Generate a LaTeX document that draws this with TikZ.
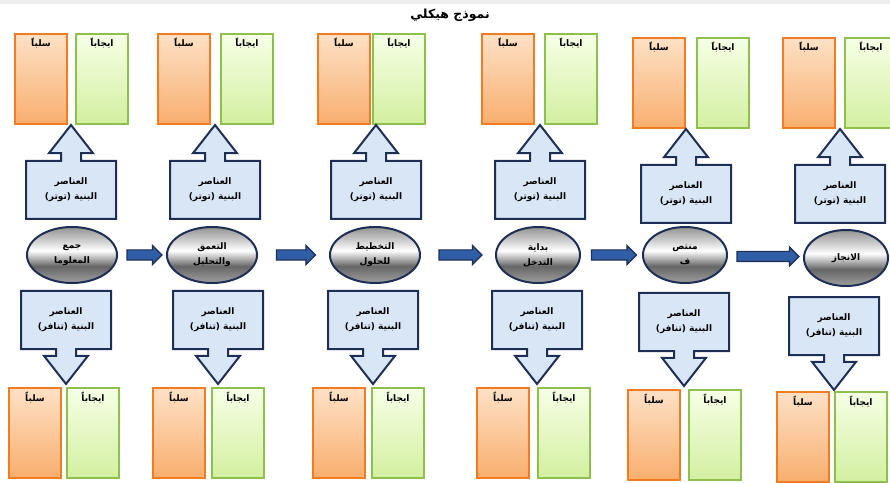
\documentclass[tikz,border=0pt]{standalone}
\usepackage{fontspec}
\usetikzlibrary{shapes.geometric,shapes.arrows}
\TeXXeTstate=1
\newfontfamily\arabicfont[Script=Arabic]{DejaVu Sans}
\newcommand{\rtxt}[1]{\beginR#1\endR}

\definecolor{navy}{HTML}{1F2E55}
\definecolor{flowblue}{HTML}{2F5DA6}
\definecolor{boxblue}{HTML}{D9E6F6}
\definecolor{negline}{HTML}{F37B22}
\definecolor{negtop}{HTML}{FDE1C6}
\definecolor{negbot}{HTML}{F9AE6E}
\definecolor{posline}{HTML}{8DC04C}
\definecolor{postop}{HTML}{F6FFE6}
\definecolor{posbot}{HTML}{D3EFA0}

\pgfdeclareverticalshading{metal}{100bp}{color(0bp)=(gray!75); color(25bp)=(gray!75); color(40bp)=(gray!80!black); color(47bp)=(gray!60); color(54bp)=(white); color(62bp)=(gray!35); color(75bp)=(gray!85); color(100bp)=(gray!85)}

\begin{document}
\begin{tikzpicture}[x=1pt,y=1pt,font=\arabicfont\bfseries\fontsize{9}{15}\selectfont]

      \useasboundingbox (0,0) rectangle (890,482);
      \fill[gray!15] (0,478) rectangle (890,482);

      \node (title) at (450,467) {\fontsize{12.5}{14}\selectfont\rtxt{نموذج هيكلي}};

      % negative boxes
      \begin{scope}[every node/.style={rectangle,draw=negline,line width=1.2pt,top color=negtop,bottom color=negbot,minimum width=52pt,inner xsep=0pt,inner ysep=4pt,text height=9pt,text depth=73pt}]
        \node (tn1) at (41,403) {\rtxt{سلباً}};
        \node (tn2) at (184,403) {\rtxt{سلباً}};
        \node (tn3) at (344,403) {\rtxt{سلباً}};
        \node (tn4) at (508,403) {\rtxt{سلباً}};
        \node (tn5) at (659,399) {\rtxt{سلباً}};
        \node (tn6) at (809,399) {\rtxt{سلباً}};
        \node (bn1) at (35,49) {\rtxt{سلباً}};
        \node (bn2) at (179,49) {\rtxt{سلباً}};
        \node (bn3) at (339,49) {\rtxt{سلباً}};
        \node (bn4) at (503,49) {\rtxt{سلباً}};
        \node (bn5) at (654,47) {\rtxt{سلباً}};
        \node (bn6) at (803,45) {\rtxt{سلباً}};
      \end{scope}

      % positive boxes
      \begin{scope}[every node/.style={rectangle,draw=posline,line width=1.2pt,top color=postop,bottom color=posbot,minimum width=52pt,inner xsep=0pt,inner ysep=4pt,text height=9pt,text depth=73pt}]
        \node (tp1) at (102,403) {\rtxt{ايجاباً}};
        \node (tp2) at (247,403) {\rtxt{ايجاباً}};
        \node (tp3) at (399,403) {\rtxt{ايجاباً}};
        \node (tp4) at (571,403) {\rtxt{ايجاباً}};
        \node (tp5) at (723,399) {\rtxt{ايجاباً}};
        \node (tp6) at (871,399) {\rtxt{ايجاباً}};
        \node (bp1) at (93,49) {\rtxt{ايجاباً}};
        \node (bp2) at (238,49) {\rtxt{ايجاباً}};
        \node (bp3) at (398,49) {\rtxt{ايجاباً}};
        \node (bp4) at (564,49) {\rtxt{ايجاباً}};
        \node (bp5) at (715,47) {\rtxt{ايجاباً}};
        \node (bp6) at (861,45) {\rtxt{ايجاباً}};
      \end{scope}

      % structure elements
      \begin{scope}[every node/.style={arrow box,draw=navy,line width=2pt,fill=boxblue,minimum width=90pt,minimum height=58pt,align=center,arrow box shaft width=20pt,arrow box head extend=12pt,arrow box tip angle=76}]
        \begin{scope}[every node/.append style={arrow box arrows={north:35pt from border}}]
          \node (u1) at (71,292) {\rtxt{العناصر}\\\rtxt{البنية (توتر)}};
          \node (u2) at (215,292) {\rtxt{العناصر}\\\rtxt{البنية (توتر)}};
          \node (u3) at (376,292) {\rtxt{العناصر}\\\rtxt{البنية (توتر)}};
          \node (u4) at (540,292) {\rtxt{العناصر}\\\rtxt{البنية (توتر)}};
          \node (u5) at (686,288) {\rtxt{العناصر}\\\rtxt{البنية (توتر)}};
          \node (u6) at (840,288) {\rtxt{العناصر}\\\rtxt{البنية (توتر)}};
        \end{scope}
        \begin{scope}[every node/.append style={arrow box arrows={south:34pt from border}}]
          \node (d1) at (66,162) {\rtxt{العناصر}\\\rtxt{البنية (تنافر)}};
          \node (d2) at (218,162) {\rtxt{العناصر}\\\rtxt{البنية (تنافر)}};
          \node (d3) at (373,162) {\rtxt{العناصر}\\\rtxt{البنية (تنافر)}};
          \node (d4) at (537,162) {\rtxt{العناصر}\\\rtxt{البنية (تنافر)}};
          \node (d5) at (684,160) {\rtxt{العناصر}\\\rtxt{البنية (تنافر)}};
          \node (d6) at (834,156) {\rtxt{العناصر}\\\rtxt{البنية (تنافر)}};
        \end{scope}
      \end{scope}

      % stages
      \begin{scope}[every node/.style={ellipse,draw=navy,line width=2pt,shading=metal,minimum width=90pt,minimum height=56pt,inner sep=0pt,align=center}]
        \node (e1) at (72,227) {\rtxt{جمع}\\\rtxt{المعلوما}};
        \node (e2) at (212,227) {\rtxt{التعمق}\\\rtxt{والتحليل}};
        \node (e3) at (375,227) {\rtxt{التخطيط}\\\rtxt{للحلول}};
        \node[minimum width=84pt] (e4) at (538,227) {\rtxt{بداية}\\\rtxt{التدخل}};
        \node[minimum width=84pt] (e5) at (685,227) {\rtxt{منتص}\\\rtxt{ف}};
        \node[minimum width=84pt] (e6) at (846,224) {\rtxt{الانجاز}};
      \end{scope}

      \begin{scope}[every node/.style={single arrow,draw=navy,line width=1.2pt,fill=flowblue,inner xsep=0pt,inner ysep=4.5pt,minimum width=18pt,single arrow head extend=4.5pt}]
        \path (e1.east) -- node[minimum height=35pt] (a1) {} (e2.west);
        \path (e2.east) -- node[minimum height=39pt] (a2) {} (e3.west);
        \path (e3.east) -- node[minimum height=43pt] (a3) {} (e4.west);
        \path (e4.east) -- node[minimum height=45pt] (a4) {} (e5.west);
        \path (e5.east) -- node[minimum height=62pt] (a5) {} (e6.west);
      \end{scope}

    \end{tikzpicture}
\end{document}
